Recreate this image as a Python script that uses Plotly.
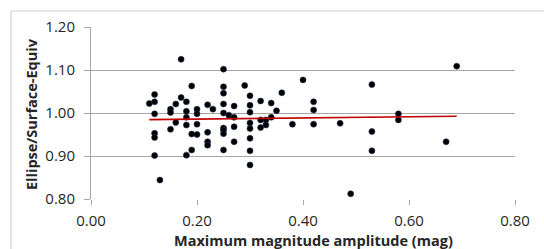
import numpy as np
import plotly.graph_objects as go

# Maximum magnitude amplitude (mag)
amplitude = [
    0.11,
    0.12, 0.12, 0.12, 0.12, 0.12, 0.12,
    0.13,
    0.15, 0.15, 0.15,
    0.16, 0.16,
    0.17, 0.17,
    0.18, 0.18, 0.18, 0.18, 0.18,
    0.19, 0.19, 0.19,
    0.20, 0.20, 0.20, 0.20,
    0.22, 0.22, 0.22, 0.22,
    0.23,
    0.25, 0.25, 0.25, 0.25, 0.25, 0.25, 0.25, 0.25, 0.25,
    0.26,
    0.27, 0.27, 0.27, 0.27,
    0.29,
    0.30, 0.30, 0.30, 0.30, 0.30, 0.30, 0.30, 0.30,
    0.32, 0.32, 0.32,
    0.33, 0.33,
    0.34, 0.34,
    0.35,
    0.36,
    0.38,
    0.40,
    0.42, 0.42, 0.42,
    0.47,
    0.49,
    0.53, 0.53, 0.53,
    0.58, 0.58,
    0.67,
    0.69,
]

# Ellipse / Surface-Equiv ratio
ratio = [
    1.022,
    1.043, 1.026, 0.998, 0.953, 0.943, 0.901,
    0.844,
    1.009, 1.001, 0.962,
    1.021, 0.978,
    1.125, 1.036,
    1.026, 1.004, 0.990, 0.972, 0.902,
    1.063, 0.951, 0.914,
    1.009, 0.998, 0.974, 0.950,
    1.019, 0.955, 0.933, 0.925,
    1.009,
    1.102, 1.061, 1.046, 1.021, 1.000, 0.965, 0.960, 0.952, 0.914,
    0.995,
    1.016, 0.990, 0.968, 0.933,
    1.064,
    1.040, 1.018, 1.002, 0.977, 0.964, 0.941, 0.912, 0.879,
    1.028, 0.984, 0.966,
    0.984, 0.972,
    1.023, 0.990,
    1.005,
    1.047,
    0.974,
    1.077,
    1.026, 1.007, 0.974,
    0.976,
    0.812,
    1.066, 0.957, 0.912,
    0.998, 0.984,
    0.933,
    1.109,
]

x_ticks = [0.0, 0.2, 0.4, 0.6, 0.8]
y_ticks = [0.8, 0.9, 1.0, 1.1, 1.2]

# Linear trend line (least squares), over the data range
slope, intercept = np.polyfit(amplitude, ratio, 1)
trend_x = [min(amplitude), max(amplitude)]
trend_y = [slope * v + intercept for v in trend_x]

W, H = 544, 249
L, R, T, B = 91, 29, 27, 50
PW, PH = W - L - R, H - T - B

fig = go.Figure()
fig.add_trace(go.Scatter(
    x=amplitude, y=ratio, mode="markers",
    marker=dict(color="#000000", size=6, line=dict(width=0.6, color="#1f2f55")),
    showlegend=False, hoverinfo="x+y",
))
fig.add_trace(go.Scatter(
    x=trend_x, y=trend_y, mode="lines",
    line=dict(color="#C00000", width=1.6),
    showlegend=False, hoverinfo="skip",
))

font = "Open Sans, Noto Sans, Liberation Sans, sans-serif"

fig.update_layout(
    width=W, height=H,
    margin=dict(l=L, r=R, t=T, b=B, pad=0, autoexpand=False),
    paper_bgcolor="white", plot_bgcolor="white",
    font=dict(family=font, size=15, color="#262626"),
    xaxis=dict(
        range=[0, 0.8], tickvals=x_ticks, tickformat=".2f",
        showgrid=False, zeroline=False,
        showline=False, automargin=False,
        ticks="outside", ticklen=5, tickcolor="#A6A6A6", tickwidth=1,
        ticklabelstandoff=3,
    ),
    yaxis=dict(
        range=[0.8, 1.2], tickvals=y_ticks, tickformat=".2f",
        showgrid=True, gridcolor="#A6A6A6", gridwidth=1,
        zeroline=False, automargin=False,
        showline=True, linecolor="#A6A6A6", linewidth=1,
        ticks="outside", ticklen=6, tickcolor="#A6A6A6", tickwidth=1,
        ticklabelstandoff=6,
    ),
    annotations=[
        dict(text="<b>Maximum magnitude amplitude (mag)</b>",
             xref="paper", yref="paper", x=(313 - L) / PW, y=-(240 - T - PH) / PH,
             xanchor="center", yanchor="middle", showarrow=False,
             font=dict(family=font, size=14.5, color="#262626")),
        dict(text="<b>Ellipse/Surface-Equiv</b>", textangle=-90,
             xref="paper", yref="paper", x=-(L - 31) / PW, y=(T + PH - 114) / PH,
             xanchor="center", yanchor="middle", showarrow=False,
             font=dict(family=font, size=14.5, color="#262626")),
    ],
    shapes=[
        # outer chart border (top and left edges visible)
        dict(type="line", xref="paper", yref="paper",
             x0=-(L - 11) / PW, x1=(W - L + 10) / PW,
             y0=1 + (T - 11) / PH, y1=1 + (T - 11) / PH,
             line=dict(color="#CFCFCF", width=1.2)),
        dict(type="line", xref="paper", yref="paper",
             x0=-(L - 11) / PW, x1=-(L - 11) / PW,
             y0=-(B + 10) / PH, y1=1 + (T - 11) / PH,
             line=dict(color="#CFCFCF", width=1.2)),
    ],
)

fig.write_html(
    "out.html",
    config={"displayModeBar": False},
    post_script="document.body.style.margin='0';document.body.style.overflow='hidden';",
)
